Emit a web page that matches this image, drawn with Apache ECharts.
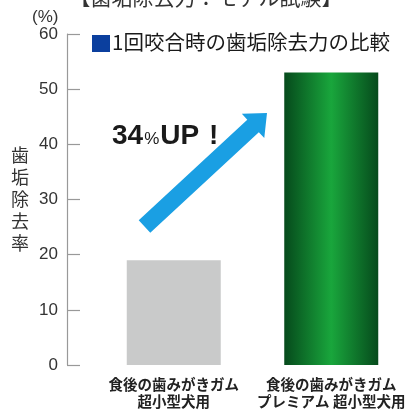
<!DOCTYPE html>
<html><head><meta charset="utf-8">
<script src="https://cdn.jsdelivr.net/npm/echarts@6/dist/echarts.min.js"></script>
<style>html,body{margin:0;padding:0;background:#fff}#c{width:410px;height:410px}</style>
</head><body><div id="c"></div>
<script>
var categories = ['食後の歯みがきガム\n超小型犬用', '食後の歯みがきガム\nプレミアム 超小型犬用'];
var removalRate = [19, 53];
var yTicks = [0, 10, 20, 30, 40, 50, 60];

var chart = echarts.init(document.getElementById('c'));
var CJK = '"Noto Sans CJK JP", "Noto Sans", sans-serif';
var LAT = '"Liberation Sans", Arial, sans-serif';

// arrow geometry (annotation)
function arrowPoints(T, P, hw, hh, hl) {
  var dx = P[0]-T[0], dy = P[1]-T[1], L = Math.sqrt(dx*dx+dy*dy);
  var ux = dx/L, uy = dy/L, nx = -uy, ny = ux;
  var B = [P[0]-ux*hl, P[1]-uy*hl];
  return [
    [T[0]+nx*hw, T[1]+ny*hw], [B[0]+nx*hw, B[1]+ny*hw], [B[0]+nx*hh, B[1]+ny*hh],
    P, [B[0]-nx*hh, B[1]-ny*hh], [B[0]-nx*hw, B[1]-ny*hw], [T[0]-nx*hw, T[1]-ny*hw]
  ];
}

var option = {
  animation: false,
  backgroundColor: '#fff',
  grid: { left: 95, width: 320, top: 34, bottom: 41 },
  xAxis: {
    type: 'category',
    data: categories,
    axisLine: { show: false },
    axisTick: { show: false },
    axisLabel: { color: '#222', fontFamily: CJK, fontSize: 14.5, fontWeight: 'bold', lineHeight: 17, margin: 11, interval: 0 }
  },
  yAxis: {
    type: 'value',
    min: yTicks[0], max: yTicks[yTicks.length-1], interval: 10,
    offset: 28,
    name: '歯\n垢\n除\n去\n率',
    nameLocation: 'middle',
    nameRotate: 0,
    nameGap: 38,
    nameTextStyle: { color: '#333', fontFamily: CJK, fontSize: 18, lineHeight: 22, padding: [12, 0, 0, 0] },
    axisLine: { show: true, lineStyle: { color: '#999', width: 1.2 } },
    axisTick: { show: true, inside: true, length: 13, lineStyle: { color: '#999', width: 1.2 } },
    axisLabel: { color: '#333', fontFamily: LAT, fontSize: 17, margin: 9 },
    splitLine: { show: false }
  },
  series: [{
    type: 'bar',
    barWidth: 94,
    data: [
      { value: removalRate[0], itemStyle: { color: '#c9caca' } },
      { value: removalRate[1], itemStyle: { color: new echarts.graphic.LinearGradient(0, 0, 1, 0, [
        { offset: 0, color: '#064a1c' },
        { offset: 0.5, color: '#19a63c' },
        { offset: 1, color: '#064a1c' }
      ]) } }
    ]
  }],
  graphic: [
    { type: 'text', x: 206, y: -3, style: { text: '【歯垢除去力：モデル試験】', fill: '#333', font: '21px ' + CJK, align: 'center', verticalAlign: 'middle' } },
    { type: 'text', left: 32, top: 9, style: { text: '(%)', fill: '#333', font: '17px ' + LAT } },
    { type: 'rect', shape: { x: 92, y: 35, width: 18, height: 17 }, style: { fill: '#0b3f9e' } },
    { type: 'text', left: 112, top: 32, style: { text: '1回咬合時の歯垢除去力の比較', fill: '#1a1a1a', font: '20.5px ' + CJK } },
    { type: 'polygon', shape: { points: arrowPoints([144.5, 226.5], [267, 113], 8.5, 16.5, 19) }, style: { fill: '#1a9fe3' } },
    { type: 'text', left: 112, top: 122, style: {
      text: '{a|34}{b|%}{a|UP}{c| !}',
      rich: {
        a: { fontFamily: LAT, fontSize: 28, fontWeight: 'bold', fill: '#1a1a1a', color: '#1a1a1a' },
        b: { fontFamily: LAT, fontSize: 17, fill: '#1a1a1a', color: '#1a1a1a', padding: [6, 1, 0, 1] },
        c: { fontFamily: LAT, fontSize: 28, fontWeight: 'bold', fill: '#1a1a1a', color: '#1a1a1a', padding: [0, 0, 0, 2] }
      }
    } }
  ]
};
chart.setOption(option);
</script>
</body></html>
